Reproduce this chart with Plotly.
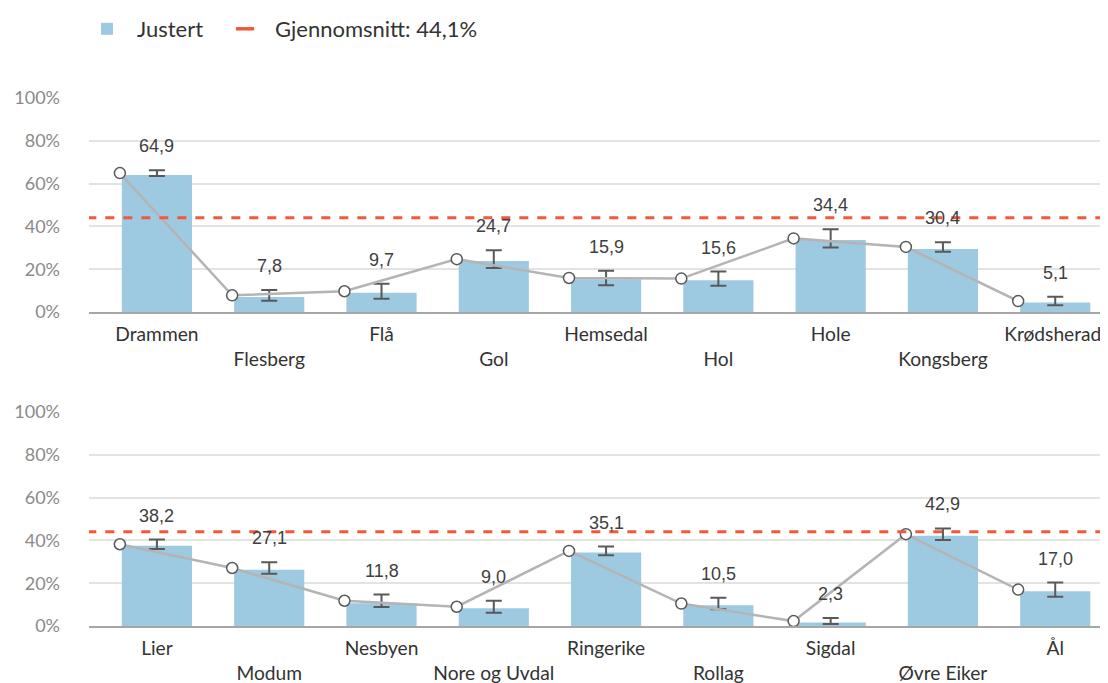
import plotly.graph_objects as go

# ---- data ----
cats_top = ["Drammen", "Flesberg", "Flå", "Gol", "Hemsedal", "Hol", "Hole", "Kongsberg", "Krødsherad"]
raw_top = [64.9, 7.8, 9.7, 24.7, 15.9, 15.6, 34.4, 30.4, 5.1]
adj_top = [64.0, 7.0, 9.0, 23.8, 15.3, 14.8, 33.6, 29.4, 4.4]
err_top = [1.3, 2.5, 3.5, 4.1, 3.4, 3.3, 4.3, 2.2, 2.0]

cats_bot = ["Lier", "Modum", "Nesbyen", "Nore og Uvdal", "Ringerike", "Rollag", "Sigdal", "Øvre Eiker", "Ål"]
raw_bot = [38.2, 27.1, 11.8, 9.0, 35.1, 10.5, 2.3, 42.9, 17.0]
adj_bot = [37.5, 26.3, 10.6, 8.3, 34.3, 9.7, 1.6, 42.2, 16.2]
err_bot = [2.2, 2.7, 2.9, 2.8, 2.0, 2.7, 1.4, 2.7, 3.3]

average = 44.1
y_ticks = [0, 20, 40, 60, 80, 100]
y_ticktext = [f"{v}%" for v in y_ticks]

BAR = "#9ecae1"
RED = "#ef5a3c"
LINE = "#b4b4b4"
DARK = "#595959"
LABEL_FONT = "Liberation Sans"
AXIS_FONT = "Lato"

# the page body adds an 8px offset; size and place the figure to compensate
OFF = 8
W, H = 1108 - OFF, 683 - OFF


def py(p):  # reference pixel row -> paper fraction
    return 1 - (p - OFF) / H


def px(p):  # reference pixel column -> paper fraction
    return (p - OFF) / W


fig = go.Figure()

panels = [
    (cats_top, raw_top, adj_top, err_top, "x", "y"),
    (cats_bot, raw_bot, adj_bot, err_bot, "x2", "y2"),
]

annotations = []
for k, (cats, raw, adj, err, xa, ya) in enumerate(panels):
    idx = list(range(len(cats)))
    fig.add_trace(go.Bar(
        x=idx, y=adj, width=0.625, marker=dict(color=BAR, line=dict(width=0)),
        name="Justert", showlegend=(k == 0), legend="legend", xaxis=xa, yaxis=ya,
        hoverinfo="skip",
    ))
    # error bars around raw values, at bar centre
    fig.add_trace(go.Scatter(
        x=idx, y=raw, mode="markers", marker=dict(size=0.1, color="rgba(0,0,0,0)"),
        error_y=dict(type="data", array=err, visible=True, color=DARK, thickness=2, width=8),
        showlegend=False, xaxis=xa, yaxis=ya, hoverinfo="skip",
    ))
    # line with markers, drawn at left edge of bars
    fig.add_trace(go.Scatter(
        x=[i - 0.33 for i in idx], y=raw, mode="lines+markers",
        line=dict(color=LINE, width=2.5),
        marker=dict(size=11, color="white", line=dict(color=DARK, width=1.5)),
        showlegend=False, xaxis=xa, yaxis=ya, hoverinfo="skip",
    ))
    # average line
    fig.add_trace(go.Scatter(
        x=[-0.62, 8.6], y=[average, average], mode="lines",
        line=dict(color=RED, width=3, dash="dash"),
        showlegend=False, xaxis=xa, yaxis=ya, hoverinfo="skip",
    ))
    for i, (r, e) in enumerate(zip(raw, err)):
        annotations.append(dict(
            x=i, y=r + e, xref=xa, yref=ya, text=f"{r:.1f}".replace(".", ","),
            showarrow=False, yshift=24, yanchor="middle",
            font=dict(family=LABEL_FONT, size=18, color="#404040"),
        ))

# legend entry for average
fig.add_trace(go.Scatter(
    x=[None], y=[None], mode="markers", legend="legend2",
    name=f"Gjennomsnitt: {average:.1f}%".replace(".", ","),
    marker=dict(symbol="line-ew", size=13, line=dict(color=RED, width=3.5)),
))


def tick_labels(cats, pad_last=False):
    out = []
    for i, c in enumerate(cats):
        t = c if i % 2 == 0 else "<br>" + c
        if pad_last and i == len(cats) - 1:
            t = t + "\u00a0"  # keep the long last label inside the page
        out.append(t)
    return out


def xaxis_cfg(cats, domain_anchor, pad_last=False):
    return dict(
        range=[-0.605, 8.47], tickvals=list(range(len(cats))),
        ticktext=tick_labels(cats, pad_last), ticklabeloverflow="allow",
        showgrid=False, zeroline=False, showline=True, linecolor="#a6a6a6", linewidth=2,
        tickfont=dict(family=AXIS_FONT, size=19.2, color="#333333"), ticks="",
        ticklabelstandoff=4,
        anchor=domain_anchor, fixedrange=True, automargin=False,
    )


def yaxis_cfg(domain, anchor):
    return dict(
        domain=domain, range=[0, 100], tickvals=y_ticks, ticktext=y_ticktext,
        showgrid=True, gridcolor="#e3e3e3", gridwidth=1.5, zeroline=False,
        tickfont=dict(family=AXIS_FONT, size=18, color="#8a8a8a"),
        ticklabelstandoff=28, anchor=anchor, fixedrange=True, automargin=False,
    )


legend_common = dict(orientation="h", xanchor="left", yanchor="middle", y=py(29),
                     font=dict(family=AXIS_FONT, size=22, color="#333333"),
                     itemwidth=50, bgcolor="rgba(0,0,0,0)", xref="container", yref="container")

fig.update_layout(
    width=W, height=H,
    margin=dict(l=89 - OFF, r=0, t=0, b=0, autoexpand=False),
    paper_bgcolor="white", plot_bgcolor="white",
    barmode="overlay",
    xaxis=xaxis_cfg(cats_top, "y", pad_last=True),
    xaxis2=xaxis_cfg(cats_bot, "y2"),
    yaxis=yaxis_cfg([py(312), py(98)], "x"),
    yaxis2=yaxis_cfg([py(626), py(412)], "x2"),
    legend=dict(legend_common, x=px(77)),
    legend2=dict(legend_common, x=px(215)),
    annotations=annotations,
    showlegend=True,
)

fig.write_html("out.html")
